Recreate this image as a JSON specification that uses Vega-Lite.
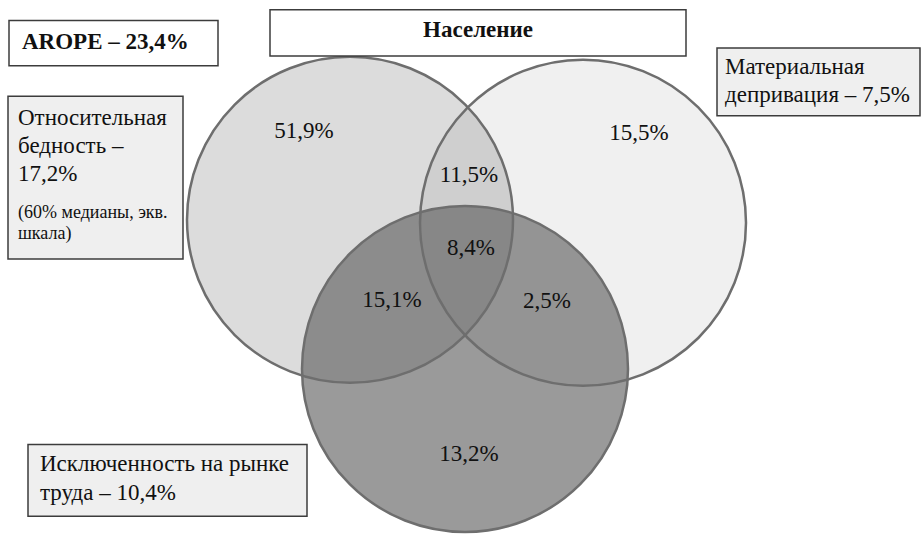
{
  "$schema": "https://vega.github.io/schema/vega-lite/v6.json",
  "width": 921,
  "height": 534,
  "autosize": {"type": "fit", "contains": "padding"},
  "padding": 0,
  "background": "#ffffff",
  "config": {"view": {"stroke": null}, "font": "Liberation Serif"},
  "datasets": {
    "circles": [
      {"name": "left", "cx": 350, "cy": 224},
      {"name": "right", "cx": 583, "cy": 227},
      {"name": "bottom", "cx": 465, "cy": 376}
    ],
    "boxes": [
      {"id": "arope", "kind": "white", "x1": 9, "x2": 218, "y1": 21, "y2": 67},
      {"id": "pop", "kind": "white", "x1": 270, "x2": 686, "y1": 10, "y2": 57},
      {"id": "rel", "kind": "gray", "x1": 8, "x2": 183, "y1": 98, "y2": 264},
      {"id": "mat", "kind": "gray", "x1": 717, "x2": 920, "y1": 49, "y2": 118},
      {"id": "lab", "kind": "gray", "x1": 28, "x2": 307, "y1": 453, "y2": 526}
    ],
    "labels": [
      {"text": "AROPE – 23,4%", "x": 22, "y": 43, "style": "boldleft"},
      {"text": "Население", "x": 478, "y": 31, "style": "boldcenter"},
      {"text": "Относительная", "x": 18, "y": 120, "style": "normal"},
      {"text": "бедность –", "x": 18, "y": 149, "style": "normal"},
      {"text": "17,2%", "x": 18, "y": 177, "style": "normal"},
      {"text": "(60% медианы, экв.", "x": 18, "y": 217, "style": "small"},
      {"text": "шкала)", "x": 18, "y": 238, "style": "small"},
      {"text": "Материальная", "x": 725, "y": 68, "style": "normal"},
      {"text": "депривация – 7,5%", "x": 725, "y": 97, "style": "normal"},
      {"text": "Исключенность на рынке", "x": 40, "y": 473, "style": "normal"},
      {"text": "труда – 10,4%", "x": 40, "y": 502, "style": "normal"},
      {"text": "51,9%", "x": 304, "y": 133, "style": "pct"},
      {"text": "15,5%", "x": 639, "y": 136, "style": "pct"},
      {"text": "11,5%", "x": 469, "y": 178, "style": "pct"},
      {"text": "8,4%", "x": 471, "y": 253, "style": "pct"},
      {"text": "2,5%", "x": 547, "y": 307, "style": "pct"},
      {"text": "15,1%", "x": 392, "y": 306, "style": "pct"},
      {"text": "13,2%", "x": 469, "y": 463, "style": "pct"}
    ]
  },
  "layer": [
    {
      "data": {"name": "circles"},
      "transform": [{"filter": "datum.name === 'left'"}],
      "mark": {"type": "point", "shape": "circle", "size": 106276, "filled": true, "fill": "#dcdcdc", "fillOpacity": 1, "strokeWidth": 0},
      "encoding": {
        "x": {"field": "cx", "type": "quantitative", "scale": {"domain": [0, 921], "nice": false, "zero": false}, "axis": null},
        "y": {"field": "cy", "type": "quantitative", "scale": {"domain": [0, 534], "nice": false, "zero": false, "reverse": true}, "axis": null}
      }
    },
    {
      "data": {"name": "circles"},
      "transform": [{"filter": "datum.name === 'right'"}],
      "mark": {"type": "point", "shape": "circle", "size": 106276, "filled": true, "fill": "#000000", "fillOpacity": 0.06, "strokeWidth": 0},
      "encoding": {
        "x": {"field": "cx", "type": "quantitative", "axis": null},
        "y": {"field": "cy", "type": "quantitative", "axis": null}
      }
    },
    {
      "data": {"name": "circles"},
      "transform": [{"filter": "datum.name === 'bottom'"}],
      "mark": {"type": "point", "shape": "circle", "size": 106276, "filled": true, "fill": "#575757", "fillOpacity": 0.6, "strokeWidth": 0},
      "encoding": {
        "x": {"field": "cx", "type": "quantitative", "axis": null},
        "y": {"field": "cy", "type": "quantitative", "axis": null}
      }
    },
    {
      "data": {"name": "circles"},
      "mark": {"type": "point", "shape": "circle", "size": 106276, "filled": false, "stroke": "#6e6e6e", "strokeWidth": 2.5, "opacity": 1},
      "encoding": {
        "x": {"field": "cx", "type": "quantitative", "axis": null},
        "y": {"field": "cy", "type": "quantitative", "axis": null}
      }
    },
    {
      "data": {"name": "boxes"},
      "mark": {"type": "rect", "stroke": "#3c3c3c", "strokeWidth": 1.5},
      "encoding": {
        "x": {"field": "x1", "type": "quantitative", "axis": null},
        "x2": {"field": "x2"},
        "y": {"field": "y1", "type": "quantitative", "axis": null},
        "y2": {"field": "y2"},
        "fill": {"field": "kind", "type": "nominal", "scale": {"domain": ["white", "gray"], "range": ["#ffffff", "#efefef"]}, "legend": null}
      }
    },
    {
      "data": {"name": "labels"},
      "transform": [{"filter": "datum.style === 'boldleft'"}],
      "mark": {"type": "text", "font": "Liberation Serif", "align": "left", "baseline": "middle", "fontSize": 23, "fontWeight": "bold", "color": "#111111"},
      "encoding": {
        "x": {"field": "x", "type": "quantitative", "axis": null},
        "y": {"field": "y", "type": "quantitative", "axis": null},
        "text": {"field": "text"}
      }
    },
    {
      "data": {"name": "labels"},
      "transform": [{"filter": "datum.style === 'boldcenter'"}],
      "mark": {"type": "text", "font": "Liberation Serif", "align": "center", "baseline": "middle", "fontSize": 23, "fontWeight": "bold", "color": "#111111"},
      "encoding": {
        "x": {"field": "x", "type": "quantitative", "axis": null},
        "y": {"field": "y", "type": "quantitative", "axis": null},
        "text": {"field": "text"}
      }
    },
    {
      "data": {"name": "labels"},
      "transform": [{"filter": "datum.style === 'normal'"}],
      "mark": {"type": "text", "font": "Liberation Serif", "align": "left", "baseline": "middle", "fontSize": 23, "color": "#111111"},
      "encoding": {
        "x": {"field": "x", "type": "quantitative", "axis": null},
        "y": {"field": "y", "type": "quantitative", "axis": null},
        "text": {"field": "text"}
      }
    },
    {
      "data": {"name": "labels"},
      "transform": [{"filter": "datum.style === 'small'"}],
      "mark": {"type": "text", "font": "Liberation Serif", "align": "left", "baseline": "middle", "fontSize": 18, "color": "#111111"},
      "encoding": {
        "x": {"field": "x", "type": "quantitative", "axis": null},
        "y": {"field": "y", "type": "quantitative", "axis": null},
        "text": {"field": "text"}
      }
    },
    {
      "data": {"name": "labels"},
      "transform": [{"filter": "datum.style === 'pct'"}],
      "mark": {"type": "text", "font": "Liberation Serif", "align": "center", "baseline": "middle", "fontSize": 23, "color": "#111111"},
      "encoding": {
        "x": {"field": "x", "type": "quantitative", "axis": null},
        "y": {"field": "y", "type": "quantitative", "axis": null},
        "text": {"field": "text"}
      }
    }
  ]
}
